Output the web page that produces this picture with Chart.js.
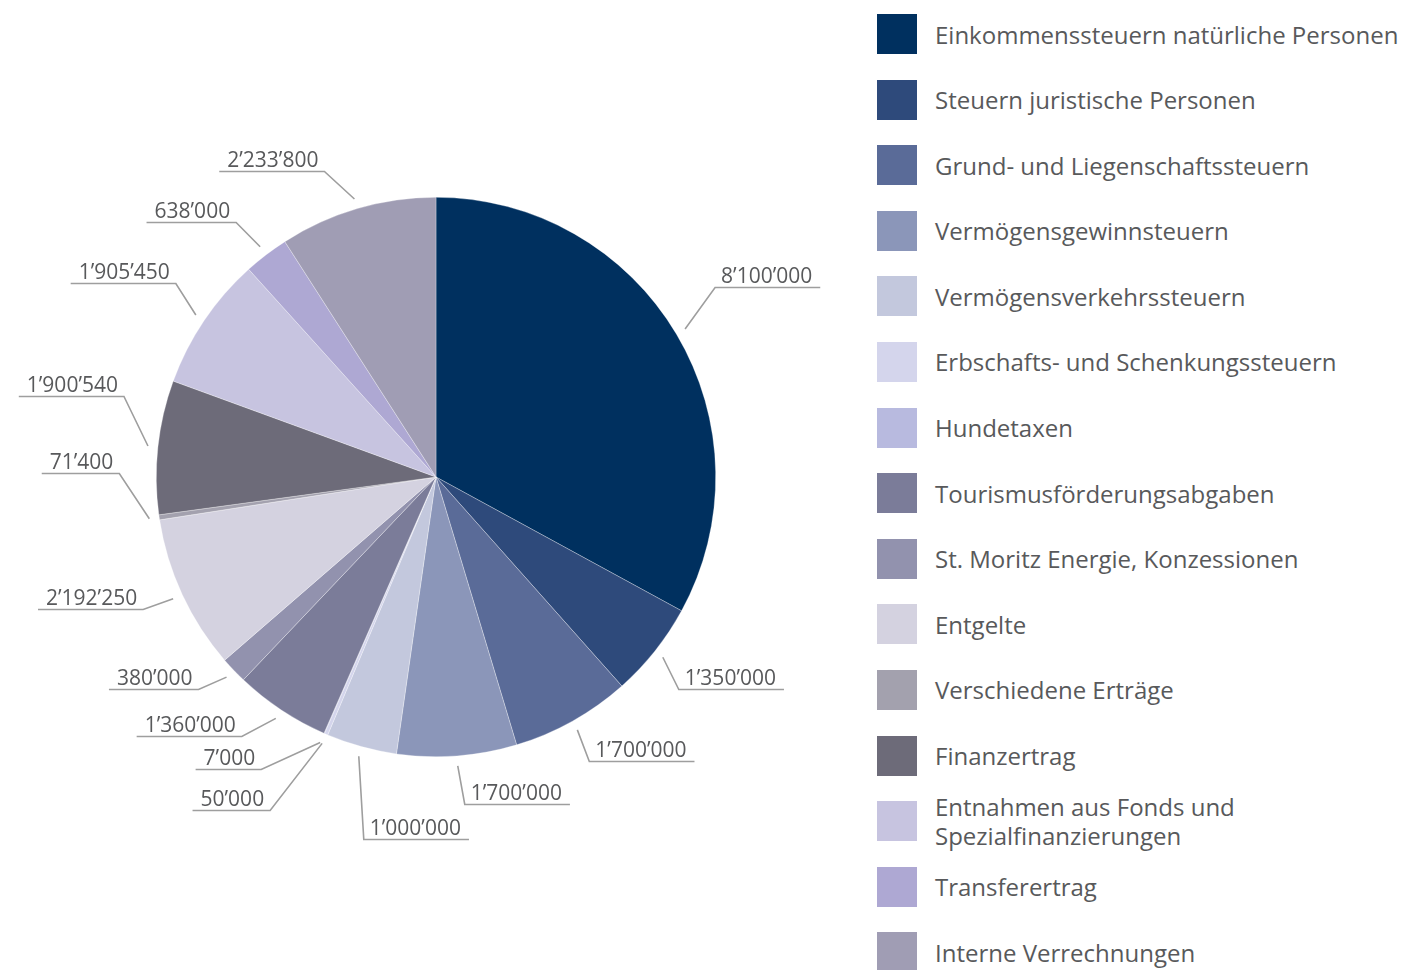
<!DOCTYPE html>
<html lang="de">
<head>
<meta charset="UTF-8">
<title>Erträge</title>
<style>
  body { margin: 0; background: #fff; font-family: 'Open Sans', sans-serif; }
  #wrap { position: relative; width: 1405px; height: 970px; }
  #pie { position: absolute; left: 0; top: 0; }
  #legend { position: absolute; left: 877px; top: 14px; }
  .item { display: flex; align-items: center; height: 40px; margin-bottom: 25.6px; }
  .box { width: 40px; height: 40px; flex: none; }
  .txt { margin-left: 18px; font-size: 24px; line-height: 29px; color: #58595b; max-width: 480px; }
</style>
</head>
<body>
<div id="wrap">
  <canvas id="pie" width="870" height="970"></canvas>
  <div id="legend"></div>
</div>

<script src="https://cdn.jsdelivr.net/npm/chart.js"></script>
<script>
const categories = [
  'Einkommenssteuern natürliche Personen',
  'Steuern juristische Personen',
  'Grund- und Liegenschaftssteuern',
  'Vermögensgewinnsteuern',
  'Vermögensverkehrssteuern',
  'Erbschafts- und Schenkungssteuern',
  'Hundetaxen',
  'Tourismusförderungsabgaben',
  'St. Moritz Energie, Konzessionen',
  'Entgelte',
  'Verschiedene Erträge',
  'Finanzertrag',
  'Entnahmen aus Fonds und Spezialfinanzierungen',
  'Transferertrag',
  'Interne Verrechnungen'
];

const values = [8100000, 1350000, 1700000, 1700000, 1000000, 50000, 7000,
  1360000, 380000, 2192250, 71400, 1900540, 1905450, 638000, 2233800];

const colors = ['#00305f', '#2e4a7b', '#5a6b98', '#8b96b9', '#c3c8dd', '#d4d5ec', '#b8badf',
  '#7b7c99', '#9292ae', '#d4d2e0', '#a3a1ae', '#6d6b79', '#c7c4e0', '#aea8d3', '#a09db4'];

// leader line: offset of the elbow from the point just outside the slice
const labelOffsets = [
  [30, -42], [16, 32], [12, 31], [7, 38], [5, 83], [-52, 67], [-59, 26],
  [-34, 18], [-28, 12], [-30, 10], [-30, -46], [-24, -50], [-20, -32], [-24, -25], [-30, -28]
];

function fmt(v) {
  return String(v).replace(/\B(?=(\d{3})+(?!\d))/g, '\u2019');
}

// legend on the right
const legend = document.getElementById('legend');
categories.forEach((c, i) => {
  const item = document.createElement('div');
  item.className = 'item';
  item.innerHTML = '<div class="box" style="background:' + colors[i] + '"></div><div class="txt">' + c + '</div>';
  legend.appendChild(item);
});

const leaderLabels = {
  id: 'leaderLabels',
  afterDatasetsDraw(chart) {
    const ctx = chart.ctx;
    const arcs = chart.getDatasetMeta(0).data;
    ctx.save();
    ctx.font = '21px "Open Sans"';
    ctx.strokeStyle = '#9e9e9e';
    ctx.lineWidth = 1.6;
    ctx.fillStyle = '#58595b';
    arcs.forEach((arc, i) => {
      const p = arc.getProps(['x', 'y', 'startAngle', 'endAngle', 'outerRadius'], true);
      const mid = (p.startAngle + p.endAngle) / 2;
      const ax = p.x + Math.cos(mid) * (p.outerRadius + 10);
      const ay = p.y + Math.sin(mid) * (p.outerRadius + 10);
      const ex = ax + labelOffsets[i][0];
      const ey = Math.round(ay + labelOffsets[i][1]) + 0.5;
      const text = fmt(values[i]);
      const w = ctx.measureText(text).width;
      const dir = labelOffsets[i][0] >= 0 ? 1 : -1;
      ctx.beginPath();
      ctx.moveTo(ax, ay);
      ctx.lineTo(ex, ey);
      ctx.lineTo(ex + dir * (w + 14), ey);
      ctx.stroke();
      ctx.textAlign = dir > 0 ? 'left' : 'right';
      ctx.fillText(text, ex + dir * 6, ey - 5);
    });
    ctx.restore();
  }
};

new Chart(document.getElementById('pie'), {
  type: 'pie',
  data: {
    labels: categories,
    datasets: [{
      data: values,
      backgroundColor: colors,
      borderColor: 'rgba(255,255,255,0.5)',
      borderWidth: 0.6,
      hoverOffset: 0
    }]
  },
  options: {
    responsive: false,
    animation: false,
    events: [],
    layout: { padding: { left: 155, right: 153, top: 197, bottom: 213 } },
    plugins: {
      legend: { display: false },
      tooltip: { enabled: false }
    }
  },
  plugins: [leaderLabels]
});
</script>
</body>
</html>
